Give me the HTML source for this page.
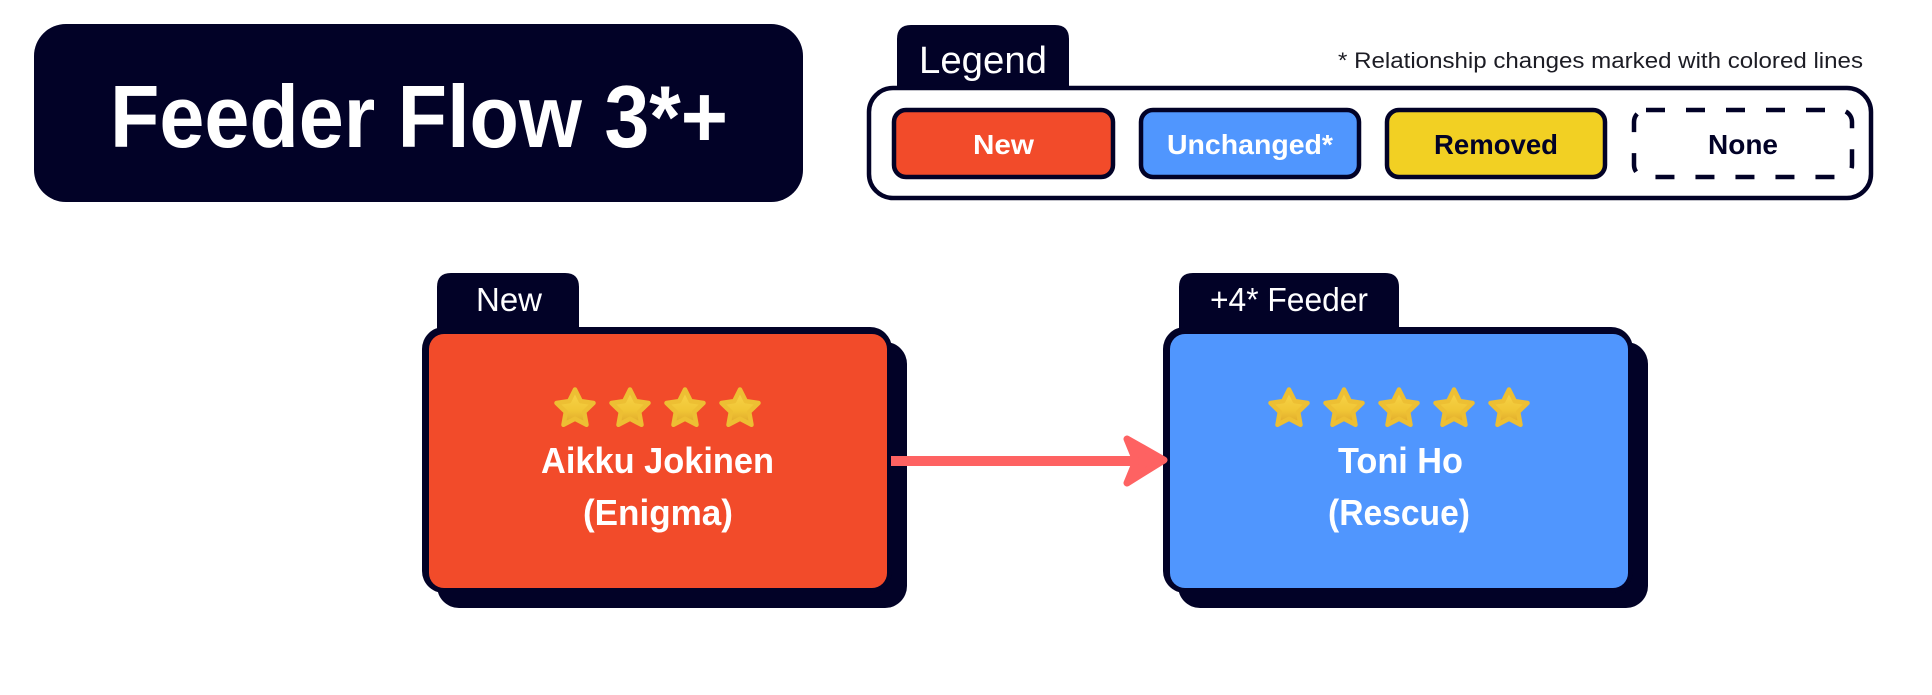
<!DOCTYPE html>
<html>
<head>
<meta charset="utf-8">
<style>
  html, body { margin: 0; padding: 0; background: #ffffff; }
  body { width: 1932px; height: 695px; overflow: hidden; }
  svg { display: block; }
  text { font-family: "Liberation Sans", "DejaVu Sans", sans-serif; }
</style>
</head>
<body>
<svg width="1932" height="695" viewBox="0 0 1932 695" xmlns="http://www.w3.org/2000/svg">
  <defs>
    <linearGradient id="starg" x1="0" y1="0" x2="0" y2="1">
      <stop offset="0" stop-color="#F8D64A"/>
      <stop offset="0.6" stop-color="#F0C535"/>
      <stop offset="1" stop-color="#DDA52A"/>
    </linearGradient>
    <path id="star" d="M0,-19.5 L5.8,-7.9 L18.5,-6 L9.2,3 L11.5,15.8 L0,9.8 L-11.5,15.8 L-9.2,3 L-18.5,-6 L-5.8,-7.9 Z"
          fill="url(#starg)" stroke="#EDBF33" stroke-width="4.5" stroke-linejoin="round"/>
  </defs>

  <!-- Title -->
  <rect x="34" y="24" width="769" height="178" rx="32" ry="32" fill="#020227"/>
  <text x="110" y="147" font-size="88" font-weight="bold" fill="#ffffff" textLength="618" lengthAdjust="spacingAndGlyphs">Feeder Flow 3*+</text>

  <!-- Legend -->
  <path d="M897,90 L897,39 Q897,25 911,25 L1055,25 Q1069,25 1069,39 L1069,90 Z" fill="#020227"/>
  <text x="919" y="73" font-size="38" fill="#ffffff" textLength="128" lengthAdjust="spacingAndGlyphs">Legend</text>
  <rect x="869" y="88" width="1002" height="110" rx="24" ry="24" fill="#ffffff" stroke="#020227" stroke-width="4.5"/>
  <text x="1338" y="68" font-size="22" fill="#1c1c24" textLength="525" lengthAdjust="spacingAndGlyphs">* Relationship changes marked with colored lines</text>

  <rect x="894" y="110" width="219" height="67" rx="12" ry="12" fill="#F24B2A" stroke="#020227" stroke-width="4.5"/>
  <text x="1003.5" y="154" font-size="28" font-weight="bold" fill="#ffffff" text-anchor="middle" textLength="61" lengthAdjust="spacingAndGlyphs">New</text>

  <rect x="1141" y="110" width="218" height="67" rx="12" ry="12" fill="#5096FE" stroke="#020227" stroke-width="4.5"/>
  <text x="1250" y="154" font-size="28" font-weight="bold" fill="#ffffff" text-anchor="middle" textLength="166" lengthAdjust="spacingAndGlyphs">Unchanged*</text>

  <rect x="1387" y="110" width="218" height="67" rx="12" ry="12" fill="#F2D023" stroke="#020227" stroke-width="4.5"/>
  <text x="1496" y="154" font-size="28" font-weight="bold" fill="#020227" text-anchor="middle" textLength="124" lengthAdjust="spacingAndGlyphs">Removed</text>

  <rect x="1634" y="110" width="218" height="67" rx="12" ry="12" fill="#ffffff" stroke="#020227" stroke-width="4.5" stroke-dasharray="19 21"/>
  <text x="1743" y="154" font-size="28" font-weight="bold" fill="#020227" text-anchor="middle" textLength="70" lengthAdjust="spacingAndGlyphs">None</text>

  <!-- Left card -->
  <rect x="437" y="342" width="470" height="266" rx="22" ry="22" fill="#020227"/>
  <path d="M437,335 L437,287 Q437,273 451,273 L565,273 Q579,273 579,287 L579,335 Z" fill="#020227"/>
  <rect x="422" y="327" width="470" height="266" rx="22" ry="22" fill="#020227"/>
  <rect x="429" y="334" width="458" height="254" rx="15" ry="15" fill="#F24B2A"/>
  <text x="476" y="311" font-size="33" fill="#ffffff" textLength="66" lengthAdjust="spacingAndGlyphs">New</text>
  <use href="#star" x="575" y="409"/>
  <use href="#star" x="630" y="409"/>
  <use href="#star" x="685" y="409"/>
  <use href="#star" x="740" y="409"/>
  <text x="657.5" y="473" font-size="36" font-weight="bold" fill="#ffffff" text-anchor="middle" textLength="233" lengthAdjust="spacingAndGlyphs">Aikku Jokinen</text>
  <text x="658" y="525" font-size="36" font-weight="bold" fill="#ffffff" text-anchor="middle" textLength="150" lengthAdjust="spacingAndGlyphs">(Enigma)</text>

  <!-- Right card -->
  <rect x="1178" y="342" width="470" height="266" rx="22" ry="22" fill="#020227"/>
  <path d="M1179,335 L1179,287 Q1179,273 1193,273 L1385,273 Q1399,273 1399,287 L1399,335 Z" fill="#020227"/>
  <rect x="1163" y="327" width="470" height="266" rx="22" ry="22" fill="#020227"/>
  <rect x="1170" y="334" width="458" height="254" rx="15" ry="15" fill="#5096FE"/>
  <text x="1210" y="311" font-size="33" fill="#ffffff" textLength="158" lengthAdjust="spacingAndGlyphs">+4* Feeder</text>
  <use href="#star" x="1289" y="409"/>
  <use href="#star" x="1344" y="409"/>
  <use href="#star" x="1399" y="409"/>
  <use href="#star" x="1454" y="409"/>
  <use href="#star" x="1509" y="409"/>
  <text x="1400.5" y="473" font-size="36" font-weight="bold" fill="#ffffff" text-anchor="middle" textLength="125" lengthAdjust="spacingAndGlyphs">Toni Ho</text>
  <text x="1399" y="525" font-size="36" font-weight="bold" fill="#ffffff" text-anchor="middle" textLength="142" lengthAdjust="spacingAndGlyphs">(Rescue)</text>

  <!-- Arrow -->
  <line x1="891" y1="461" x2="1140" y2="461" stroke="#FE6262" stroke-width="10"/>
  <polygon points="1164,460 1127,439 1136,461 1127,483" fill="#FE6262" stroke="#FE6262" stroke-width="7" stroke-linejoin="round"/>
</svg>
</body>
</html>
